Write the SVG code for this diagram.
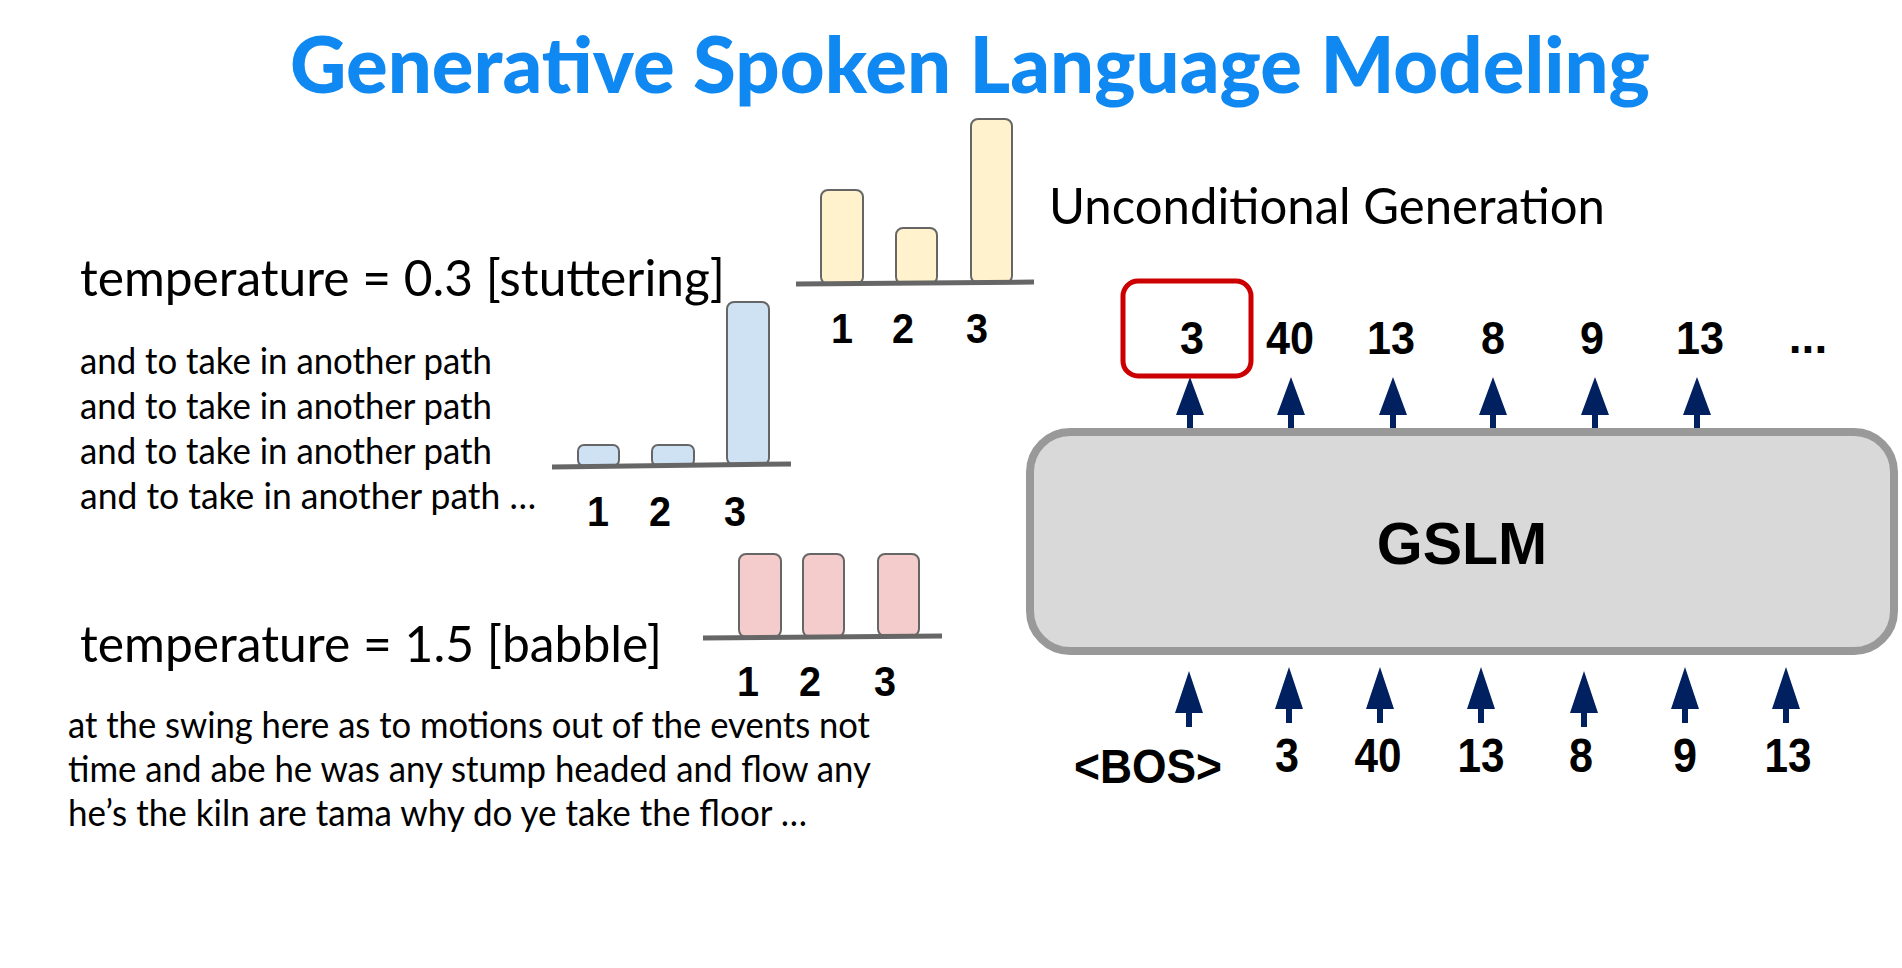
<svg xmlns="http://www.w3.org/2000/svg" xmlns:xlink="http://www.w3.org/1999/xlink" width="1902" height="968" viewBox="0 0 1902 968">
  <style>
    .title { font-family: Lato, "Open Sans", sans-serif; font-weight: 900; font-size: 78px; fill: #0f88f2; }
    .big { font-family: Lato, "Noto Sans", sans-serif; font-size: 51px; fill: #000; }
    .small { font-family: Lato, "Noto Sans", sans-serif; font-size: 36px; fill: #000; }
    .num { font-family: "Liberation Sans", Arial, sans-serif; font-weight: 700; font-size: 46px; fill: #000; text-anchor: middle; }
    .numb { font-family: "Liberation Sans", Arial, sans-serif; font-weight: 700; font-size: 49px; fill: #000; text-anchor: middle; }
    .lab { font-family: "Liberation Sans", Arial, sans-serif; font-weight: 700; font-size: 43px; fill: #000; text-anchor: middle; }
    .axis { stroke: #666666; stroke-width: 5; fill: none; }
    .bar { stroke: #666666; stroke-width: 2; }
    .yel { fill: #fff2cc; }
    .blu { fill: #cfe2f3; }
    .pnk { fill: #f4cccc; }
    .arrow { fill: #002060; }
  </style>
  <defs>
    <path id="arrTop" d="M-3,0 V-17 H-14 L0,-55 L14,-17 H3 V0 Z"/>
    <path id="arrBot" d="M-3,0 V-14 H-14 L0,-56 L14,-14 H3 V0 Z"/>
  </defs>
  <rect width="1902" height="968" fill="#ffffff"/>

  <text class="title" x="290" y="93" textLength="1360" lengthAdjust="spacingAndGlyphs">Generative Spoken Language Modeling</text>

  <!-- Yellow distribution chart -->
  <g id="chart-uncond">
    <rect class="bar yel" x="821" y="190" width="42" height="94" rx="7"/>
    <rect class="bar yel" x="896" y="228" width="41" height="56" rx="7"/>
    <rect class="bar yel" x="971" y="119" width="41" height="164" rx="7"/>
    <line class="axis" x1="796" y1="284" x2="1034" y2="282"/>
    <text class="lab" x="842" y="343" textLength="22" lengthAdjust="spacingAndGlyphs">1</text>
    <text class="lab" x="903" y="343" textLength="22" lengthAdjust="spacingAndGlyphs">2</text>
    <text class="lab" x="977" y="343" textLength="22" lengthAdjust="spacingAndGlyphs">3</text>
  </g>

  <!-- Blue distribution chart -->
  <g id="chart-stutter">
    <rect class="bar blu" x="578" y="445" width="41" height="21" rx="6"/>
    <rect class="bar blu" x="652" y="445" width="42" height="21" rx="6"/>
    <rect class="bar blu" x="727" y="302" width="42" height="163" rx="7"/>
    <line class="axis" x1="552" y1="467" x2="791" y2="464"/>
    <text class="lab" x="598" y="526" textLength="22" lengthAdjust="spacingAndGlyphs">1</text>
    <text class="lab" x="660" y="526" textLength="22" lengthAdjust="spacingAndGlyphs">2</text>
    <text class="lab" x="735" y="526" textLength="22" lengthAdjust="spacingAndGlyphs">3</text>
  </g>

  <!-- Pink distribution chart -->
  <g id="chart-babble">
    <rect class="bar pnk" x="739" y="554" width="42" height="83" rx="7"/>
    <rect class="bar pnk" x="803" y="554" width="41" height="83" rx="7"/>
    <rect class="bar pnk" x="878" y="554" width="41" height="82" rx="7"/>
    <line class="axis" x1="703" y1="638" x2="942" y2="636"/>
    <text class="lab" x="748" y="696" textLength="22" lengthAdjust="spacingAndGlyphs">1</text>
    <text class="lab" x="810" y="696" textLength="22" lengthAdjust="spacingAndGlyphs">2</text>
    <text class="lab" x="885" y="696" textLength="22" lengthAdjust="spacingAndGlyphs">3</text>
  </g>

  <!-- Left texts -->
  <g id="stutter-text">
    <text class="big" x="80" y="296" textLength="645" lengthAdjust="spacingAndGlyphs">temperature = 0.3 [stuttering]</text>
    <text class="small" x="80" y="374" textLength="412" lengthAdjust="spacingAndGlyphs">and to take in another path</text>
    <text class="small" x="80" y="419" textLength="412" lengthAdjust="spacingAndGlyphs">and to take in another path</text>
    <text class="small" x="80" y="464" textLength="412" lengthAdjust="spacingAndGlyphs">and to take in another path</text>
    <text class="small" x="80" y="509" textLength="456" lengthAdjust="spacingAndGlyphs">and to take in another path …</text>
  </g>
  <g id="babble-text">
    <text class="big" x="80" y="662" textLength="582" lengthAdjust="spacingAndGlyphs">temperature = 1.5 [babble]</text>
    <text class="small" x="68" y="738" textLength="802" lengthAdjust="spacingAndGlyphs">at the swing here as to motions out of the events not</text>
    <text class="small" x="68" y="782" textLength="803" lengthAdjust="spacingAndGlyphs">time and abe he was any stump headed and flow any</text>
    <text class="small" x="68" y="826" textLength="739" lengthAdjust="spacingAndGlyphs">he’s the kiln are tama why do ye take the floor …</text>
  </g>

  <g id="heading">
    <text class="big" x="1049" y="224" textLength="556" lengthAdjust="spacingAndGlyphs">Unconditional Generation</text>
  </g>

  <!-- Connectors -->
  <g id="connectors" class="arrow">
    <use xlink:href="#arrTop" href="#arrTop" x="1190" y="432"/>
    <use xlink:href="#arrTop" href="#arrTop" x="1291" y="432"/>
    <use xlink:href="#arrTop" href="#arrTop" x="1393" y="432"/>
    <use xlink:href="#arrTop" href="#arrTop" x="1493" y="432"/>
    <use xlink:href="#arrTop" href="#arrTop" x="1595" y="432"/>
    <use xlink:href="#arrTop" href="#arrTop" x="1697" y="432"/>

    <use xlink:href="#arrBot" href="#arrBot" x="1189" y="727"/>
    <use xlink:href="#arrBot" href="#arrBot" x="1289" y="723"/>
    <use xlink:href="#arrBot" href="#arrBot" x="1380" y="723"/>
    <use xlink:href="#arrBot" href="#arrBot" x="1481" y="723"/>
    <use xlink:href="#arrBot" href="#arrBot" x="1584" y="727"/>
    <use xlink:href="#arrBot" href="#arrBot" x="1685" y="723"/>
    <use xlink:href="#arrBot" href="#arrBot" x="1786" y="723"/>
  </g>

  <!-- GSLM model -->
  <g id="gslm">
    <rect x="1030" y="432" width="864" height="219" rx="40" fill="#d9d9d9" stroke="#999999" stroke-width="8"/>
    <text x="1462" y="564" font-family="'Liberation Sans', Arial, sans-serif" font-weight="700" font-size="59" text-anchor="middle">GSLM</text>
  </g>

  <!-- Output tokens -->
  <g id="out-selected">
    <rect x="1123" y="281" width="128" height="95" rx="15" fill="none" stroke="#cc0000" stroke-width="5"/>
    <text class="num" x="1192" y="354" textLength="24" lengthAdjust="spacingAndGlyphs">3</text>
  </g>
  <g id="out-tokens">
    <text class="num" x="1290" y="354" textLength="48" lengthAdjust="spacingAndGlyphs">40</text>
    <text class="num" x="1391" y="354" textLength="48" lengthAdjust="spacingAndGlyphs">13</text>
    <text class="num" x="1493" y="354" textLength="24" lengthAdjust="spacingAndGlyphs">8</text>
    <text class="num" x="1592" y="354" textLength="24" lengthAdjust="spacingAndGlyphs">9</text>
    <text class="num" x="1700" y="354" textLength="48" lengthAdjust="spacingAndGlyphs">13</text>
    <text class="num" x="1808" y="353">...</text>
  </g>

  <!-- Input tokens -->
  <g id="in-tokens">
    <text class="numb" x="1148" y="783" textLength="148" lengthAdjust="spacingAndGlyphs">&lt;BOS&gt;</text>
    <text class="numb" x="1287" y="772" textLength="24" lengthAdjust="spacingAndGlyphs">3</text>
    <text class="numb" x="1378" y="772" textLength="47" lengthAdjust="spacingAndGlyphs">40</text>
    <text class="numb" x="1481" y="772" textLength="47" lengthAdjust="spacingAndGlyphs">13</text>
    <text class="numb" x="1581" y="772" textLength="24" lengthAdjust="spacingAndGlyphs">8</text>
    <text class="numb" x="1685" y="772" textLength="24" lengthAdjust="spacingAndGlyphs">9</text>
    <text class="numb" x="1788" y="772" textLength="47" lengthAdjust="spacingAndGlyphs">13</text>
  </g>
</svg>
